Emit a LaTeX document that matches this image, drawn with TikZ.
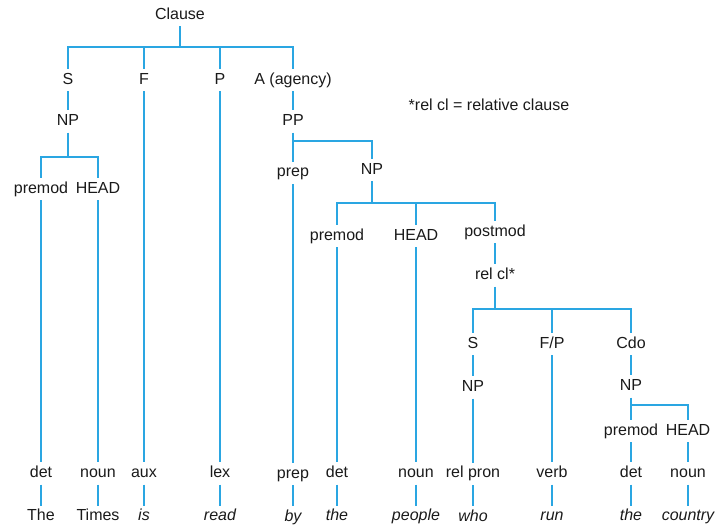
\documentclass[tikz,border=0pt]{standalone}
\usepackage{fontspec}
\setmainfont{Liberation Sans}
\usepackage{tikz}
\usetikzlibrary{positioning}
\definecolor{LineBlue}{HTML}{2AA6E2}
\definecolor{Ink}{HTML}{1A1A1A}
\tikzset{
  lbl/.style={inner xsep=0pt,inner ysep=3.5pt,text height=11.5pt,text depth=3.5pt,text=Ink,font=\fontsize{16}{18}\selectfont},
  word/.style={lbl,font=\fontsize{16}{18}\selectfont\itshape},
  br/.style={draw=LineBlue,line width=1.9pt},
}
\begin{document}
\begin{tikzpicture}[x=1pt,y=-1pt]
        \useasboundingbox (0,0) rectangle (718,528);
        \node[lbl] (clause) at (180,15) {Clause};
        \node[lbl] (s) at (68,80) {S};
        \node[lbl] (f) at (144,80) {F};
        \node[lbl] (p) at (220,80) {P};
        \node[lbl] (a) at (293,80) {A (agency)};
        \node[lbl] at (489,106) {*rel cl = relative clause};
        % subject NP
        \node[lbl,below=19pt of s] (snp) {NP};
        \node[lbl] (spremod) at (41,189) {premod};
        \node[lbl] (shead) at (98,189) {HEAD};
        \node[lbl,below=262pt of spremod] (sdet) {det};
        \node[lbl,below=262pt of shead] (snoun) {noun};
        \node[lbl,below=21pt of sdet] (wthe) {The};
        \node[lbl,below=21pt of snoun] (wtimes) {Times};
        % verb group
        \node[lbl,below=371pt of f] (aux) {aux};
        \node[lbl,below=371pt of p] (lex) {lex};
        \node[word,below=21pt of aux] (wis) {is};
        \node[word,below=21pt of lex] (wread) {read};
        % agency PP
        \node[lbl,below=19pt of a] (pp) {PP};
        \node[lbl,below=29pt of pp] (prepf) {prep};
        \node[lbl,below=279pt of prepf] (prepw) {prep};
        \node[word,below=21pt of prepw] (wby) {by};
        \node[lbl] (anp) at (372,170) {NP};
        \node[lbl] (apremod) at (337,236) {premod};
        \node[lbl] (ahead) at (416,236) {HEAD};
        \node[lbl] (apostmod) at (495,232) {postmod};
        \node[lbl,below=215pt of apremod] (adet) {det};
        \node[lbl,below=215pt of ahead] (anoun) {noun};
        \node[word,below=21pt of adet] (wthea) {the};
        \node[word,below=21pt of anoun] (wpeople) {people};
        % relative clause
        \node[lbl,below=21pt of apostmod] (relcl) {rel cl*};
        \node[lbl] (rs) at (473,344) {S};
        \node[lbl] (rfp) at (552,344) {F/P};
        \node[lbl] (rcdo) at (631,344) {Cdo};
        \node[lbl,below=21pt of rs] (rnp) {NP};
        \node[lbl,below=64pt of rnp] (relpron) {rel pron};
        \node[lbl,below=107pt of rfp] (verb) {verb};
        \node[word,below=21pt of relpron] (wwho) {who};
        \node[word,below=21pt of verb] (wrun) {run};
        \node[lbl,below=20pt of rcdo] (cnp) {NP};
        \node[lbl] (cpremod) at (631,431) {premod};
        \node[lbl] (chead) at (688,431) {HEAD};
        \node[lbl,below=20pt of cpremod] (cdet) {det};
        \node[lbl,below=20pt of chead] (cnoun) {noun};
        \node[word,below=21pt of cdet] (wtheb) {the};
        \node[word,below=21pt of cnoun] (wcountry) {country};
        % bars
        \coordinate (cbar) at (180,47);
        \coordinate (sbar) at (68,157);
        \coordinate (ppbar) at (293,141);
        \coordinate (npbar) at (372,203);
        \coordinate (rbar) at (495,309);
        \coordinate (cbarb) at (631,405);
        \draw[br] (clause) -- (cbar);
        \draw[br] (s.north) |- (cbar) -| (a.north);
        \draw[br] (f.north) -- (f.north |- cbar);
        \draw[br] (p.north) -- (p.north |- cbar);
        \draw[br] (s) -- (snp);
        \draw[br] (snp) -- (sbar);
        \draw[br] (spremod.north) |- (sbar) -| (shead.north);
        \draw[br] (spremod) -- (sdet);
        \draw[br] (shead) -- (snoun);
        \draw[br] (sdet) -- (wthe);
        \draw[br] (snoun) -- (wtimes);
        \draw[br] (f) -- (aux);
        \draw[br] (p) -- (lex);
        \draw[br] (aux) -- (wis);
        \draw[br] (lex) -- (wread);
        \draw[br] (a) -- (pp);
        \draw[br] (pp) -- (prepf);
        \draw[br] (ppbar) -| (anp.north);
        \draw[br] (prepf) -- (prepw);
        \draw[br] (prepw) -- (wby);
        \draw[br] (anp) -- (npbar);
        \draw[br] (apremod.north) |- (npbar) -| (apostmod.north);
        \draw[br] (ahead.north) -- (ahead.north |- npbar);
        \draw[br] (apremod) -- (adet);
        \draw[br] (ahead) -- (anoun);
        \draw[br] (adet) -- (wthea);
        \draw[br] (anoun) -- (wpeople);
        \draw[br] (apostmod) -- (relcl);
        \draw[br] (relcl) -- (rbar);
        \draw[br] (rs.north) |- (rbar) -| (rcdo.north);
        \draw[br] (rfp.north) -- (rfp.north |- rbar);
        \draw[br] (rs) -- (rnp);
        \draw[br] (rnp) -- (relpron);
        \draw[br] (relpron) -- (wwho);
        \draw[br] (rfp) -- (verb);
        \draw[br] (verb) -- (wrun);
        \draw[br] (rcdo) -- (cnp);
        \draw[br] (cnp) -- (cpremod);
        \draw[br] (cbarb) -| (chead.north);
        \draw[br] (cpremod) -- (cdet);
        \draw[br] (chead) -- (cnoun);
        \draw[br] (cdet) -- (wtheb);
        \draw[br] (cnoun) -- (wcountry);
      \end{tikzpicture}
\end{document}
